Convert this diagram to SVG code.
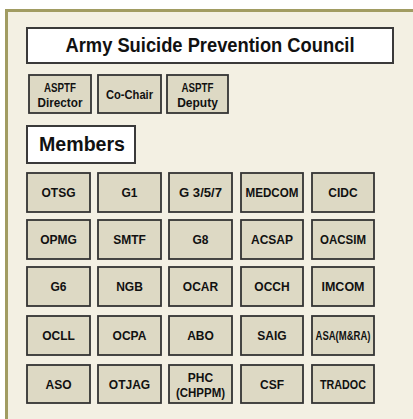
<svg xmlns="http://www.w3.org/2000/svg" width="413" height="419" viewBox="0 0 413 419">
<style>
.frame{fill:#f3f0e3;stroke:#a19c62;stroke-width:3}
.hdr{fill:#ffffff;stroke:#3a3a3a;stroke-width:2}
.box{fill:#ddd9c4;stroke:#333333;stroke-width:1.8}
text{font-family:"Liberation Sans",Arial,sans-serif;font-weight:bold;fill:#111111;text-anchor:middle}
.t{font-size:12px}
.big{font-size:20px}
</style>
<rect x="0" y="0" width="413" height="419" fill="#ffffff"/>
<rect class="frame" x="6.5" y="10.5" width="420" height="420"/>
<g id="title"><rect class="hdr" x="27" y="28" width="366" height="35"/><text class="big" x="210" y="52" textLength="289" lengthAdjust="spacingAndGlyphs">Army Suicide Prevention Council</text></g>
<g id="asptf-director"><rect class="box" x="29" y="75" width="62" height="38"/><text class="t" x="60" y="92" textLength="32" lengthAdjust="spacingAndGlyphs">ASPTF</text><text class="t" x="60" y="107" textLength="45" lengthAdjust="spacingAndGlyphs">Director</text></g>
<g id="co-chair"><rect class="box" x="98" y="75" width="63" height="38"/><text class="t" x="129.5" y="99" textLength="47" lengthAdjust="spacingAndGlyphs">Co-Chair</text></g>
<g id="asptf-deputy"><rect class="box" x="167" y="75" width="61" height="38"/><text class="t" x="197.5" y="92" textLength="32" lengthAdjust="spacingAndGlyphs">ASPTF</text><text class="t" x="197.5" y="107">Deputy</text></g>
<g id="members"><rect class="hdr" x="27" y="126" width="108" height="37"/><text class="big" x="82" y="151" textLength="86" lengthAdjust="spacingAndGlyphs">Members</text></g>
<g id="otsg"><rect class="box" x="27" y="173" width="63" height="39"/><text class="t" x="58.5" y="197">OTSG</text></g>
<g id="g1"><rect class="box" x="98" y="173" width="63" height="39"/><text class="t" x="129.5" y="197">G1</text></g>
<g id="g357"><rect class="box" x="169" y="173" width="63" height="39"/><text class="t" x="200.5" y="197" textLength="43" lengthAdjust="spacingAndGlyphs">G 3/5/7</text></g>
<g id="medcom"><rect class="box" x="241" y="173" width="62" height="39"/><text class="t" x="272" y="197" textLength="53" lengthAdjust="spacingAndGlyphs">MEDCOM</text></g>
<g id="cidc"><rect class="box" x="312" y="173" width="62" height="39"/><text class="t" x="343" y="197">CIDC</text></g>
<g id="opmg"><rect class="box" x="27" y="220" width="63" height="39"/><text class="t" x="58.5" y="244">OPMG</text></g>
<g id="smtf"><rect class="box" x="98" y="220" width="63" height="39"/><text class="t" x="129.5" y="244">SMTF</text></g>
<g id="g8"><rect class="box" x="169" y="220" width="63" height="39"/><text class="t" x="200.5" y="244">G8</text></g>
<g id="acsap"><rect class="box" x="241" y="220" width="62" height="39"/><text class="t" x="272" y="244">ACSAP</text></g>
<g id="oacsim"><rect class="box" x="312" y="220" width="62" height="39"/><text class="t" x="343" y="244" textLength="46" lengthAdjust="spacingAndGlyphs">OACSIM</text></g>
<g id="g6"><rect class="box" x="27" y="267" width="63" height="39"/><text class="t" x="58.5" y="291">G6</text></g>
<g id="ngb"><rect class="box" x="98" y="267" width="63" height="39"/><text class="t" x="129.5" y="291">NGB</text></g>
<g id="ocar"><rect class="box" x="169" y="267" width="63" height="39"/><text class="t" x="200.5" y="291">OCAR</text></g>
<g id="occh"><rect class="box" x="241" y="267" width="62" height="39"/><text class="t" x="272" y="291">OCCH</text></g>
<g id="imcom"><rect class="box" x="312" y="267" width="62" height="39"/><text class="t" x="343" y="291" textLength="43" lengthAdjust="spacingAndGlyphs">IMCOM</text></g>
<g id="ocll"><rect class="box" x="27" y="316" width="63" height="39"/><text class="t" x="58.5" y="340">OCLL</text></g>
<g id="ocpa"><rect class="box" x="98" y="316" width="63" height="39"/><text class="t" x="129.5" y="340">OCPA</text></g>
<g id="abo"><rect class="box" x="169" y="316" width="63" height="39"/><text class="t" x="200.5" y="340">ABO</text></g>
<g id="saig"><rect class="box" x="241" y="316" width="62" height="39"/><text class="t" x="272" y="340">SAIG</text></g>
<g id="asamra"><rect class="box" x="312" y="316" width="62" height="39"/><text class="t" x="343" y="340" textLength="55" lengthAdjust="spacingAndGlyphs">ASA(M&amp;RA)</text></g>
<g id="aso"><rect class="box" x="27" y="365" width="63" height="38"/><text class="t" x="58.5" y="389">ASO</text></g>
<g id="otjag"><rect class="box" x="98" y="365" width="63" height="38"/><text class="t" x="129.5" y="389">OTJAG</text></g>
<g id="phc"><rect class="box" x="169" y="365" width="63" height="38"/><text class="t" x="200.5" y="382">PHC</text><text class="t" x="200.5" y="397" textLength="49" lengthAdjust="spacingAndGlyphs">(CHPPM)</text></g>
<g id="csf"><rect class="box" x="241" y="365" width="62" height="38"/><text class="t" x="272" y="389">CSF</text></g>
<g id="tradoc"><rect class="box" x="312" y="365" width="62" height="38"/><text class="t" x="343" y="389" textLength="46" lengthAdjust="spacingAndGlyphs">TRADOC</text></g>
<g id="connectors"></g>
</svg>
